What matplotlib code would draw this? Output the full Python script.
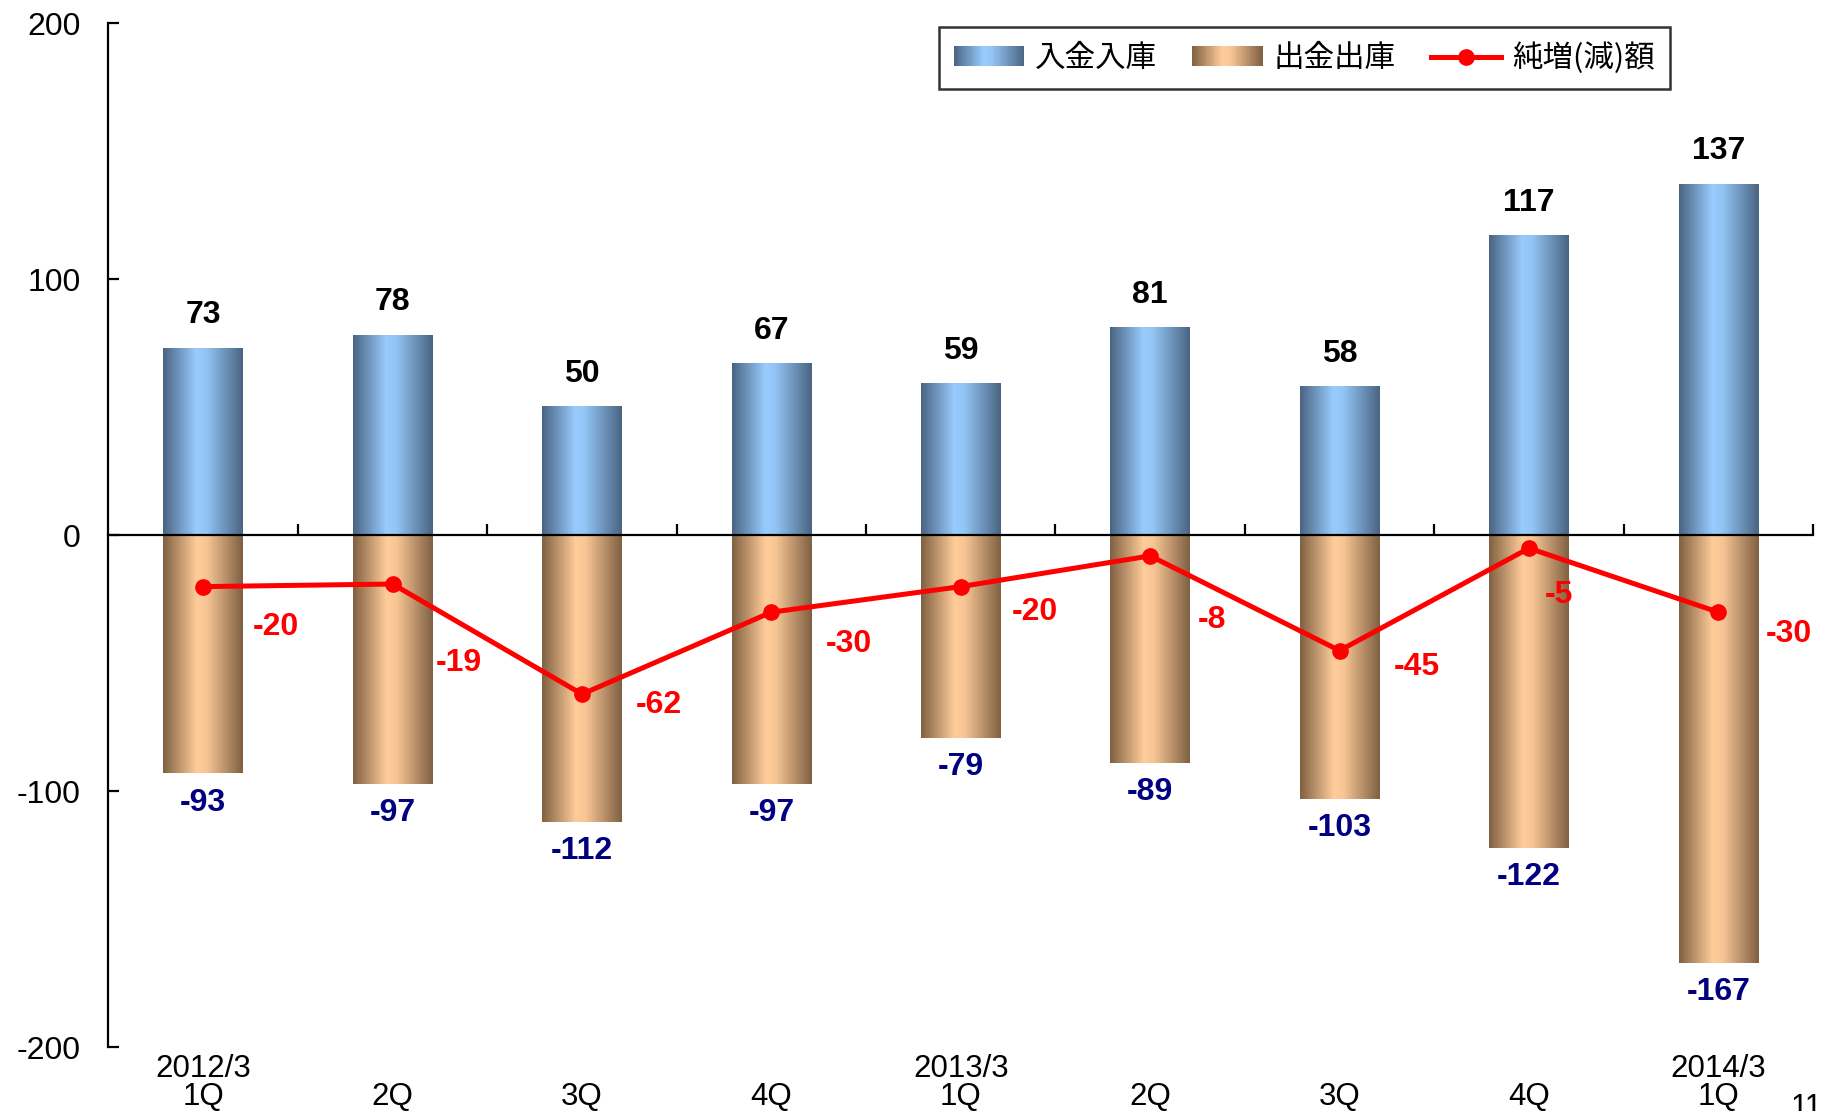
import numpy as np
import matplotlib
matplotlib.use('Agg')
import matplotlib.pyplot as plt
from matplotlib.colors import LinearSegmentedColormap
from matplotlib.legend_handler import HandlerBase
from matplotlib.patches import Rectangle
from matplotlib.lines import Line2D

plt.rcParams['font.family'] = ['Liberation Sans', 'Noto Sans CJK JP', 'DejaVu Sans']
plt.rcParams['axes.unicode_minus'] = False

quarters = ['2012/3\n1Q', '\n2Q', '\n3Q', '\n4Q', '2013/3\n1Q', '\n2Q', '\n3Q', '\n4Q', '2014/3\n1Q']
inflow = [73, 78, 50, 67, 59, 81, 58, 117, 137]
outflow = [-93, -97, -112, -97, -79, -89, -103, -122, -167]
net = [-20, -19, -62, -30, -20, -8, -45, -5, -30]

# label offsets for the net values (points), as placed by hand in the original
net_dx = [36, 31, 39, 39, 37, 34, 39, 11, 34]
net_dy = [-29, -57, -8, -23, -18, -46, -12, -34, -16]

cmap_in = LinearSegmentedColormap.from_list(
    'in', [(0, '#4a6482'), (0.42, '#99ccff'), (0.55, '#92c3f3'), (1, '#4a6482')])
cmap_out = LinearSegmentedColormap.from_list(
    'out', [(0, '#7f6042'), (0.42, '#ffcc99'), (0.55, '#f7c594'), (1, '#7f6042')])


class GradientHandler(HandlerBase):
    def __init__(self, cmap):
        super().__init__()
        self.cmap = cmap

    def create_artists(self, legend, orig_handle, xdescent, ydescent,
                       width, height, fontsize, trans):
        n = 40
        out = []
        for i in range(n):
            r = Rectangle((-xdescent + width * i / n, -ydescent), width / n * 1.05, height,
                          facecolor=self.cmap((i + 0.5) / n), edgecolor='none', transform=trans)
            out.append(r)
        return out


fig = plt.figure(figsize=(18.29, 11.11), dpi=100)
ax = fig.add_axes([0.0593, 0.0572, 0.9913 - 0.0593, 0.979 - 0.0572])

x = np.arange(len(quarters))
w = 0.42
grad = np.linspace(0, 1, 256).reshape(1, -1)

bars_in = ax.bar(x, inflow, width=w, color='none', edgecolor='none')
bars_out = ax.bar(x, outflow, width=w, color='none', edgecolor='none')
for bars, cm in ((bars_in, cmap_in), (bars_out, cmap_out)):
    for b in bars:
        x0, y0 = b.get_x(), b.get_y()
        ax.imshow(grad, cmap=cm, aspect='auto', interpolation='bilinear',
                  extent=(x0, x0 + b.get_width(), y0, y0 + b.get_height()), zorder=2)

ax.plot(x, net, color='#ff0000', lw=3.6, marker='o', markersize=11, zorder=4)

for xi, v in zip(x, inflow):
    ax.annotate(str(v), (xi, v), xytext=(0, 24), textcoords='offset points',
                ha='center', va='center', fontsize=23, fontweight='bold', color='black')
for xi, v in zip(x, outflow):
    ax.annotate(str(v), (xi, v), xytext=(0, -21), textcoords='offset points',
                ha='center', va='center', fontsize=23, fontweight='bold', color='#000080')
for xi, v, dx, dy in zip(x, net, net_dx, net_dy):
    ax.annotate(str(v), (xi, v), xytext=(dx, dy), textcoords='offset points',
                ha='left', va='center', fontsize=23, fontweight='bold', color='#ff0000')

ax.set_xlim(-0.5, 8.5)
ax.set_ylim(-200, 200)
ax.set_yticks([-200, -100, 0, 100, 200])
ax.tick_params(axis='y', direction='in', length=8, width=1.6, labelsize=23, pad=20)

ax.spines['top'].set_visible(False)
ax.spines['right'].set_visible(False)
ax.spines['left'].set_linewidth(1.6)
ax.spines['bottom'].set_position(('data', 0))
ax.spines['bottom'].set_linewidth(1.6)
ax.spines['bottom'].set_zorder(3)
ax.set_xticks(np.arange(1, len(quarters) + 1) - 0.5)
ax.tick_params(axis='x', direction='in', length=8, width=1.6, labelbottom=False)

sec = ax.secondary_xaxis('bottom')
sec.set_xticks(x, quarters)
sec.tick_params(length=0, pad=5, labelsize=22.5)
sec.spines['bottom'].set_visible(False)
for t in sec.get_xticklabels():
    t.set_linespacing(0.88)

h_in = Rectangle((0, 0), 1, 1)
h_out = Rectangle((0, 0), 1, 1)
h_net = Line2D([], [], color='#ff0000', lw=3.6, marker='o', markersize=11)
leg = fig.legend([h_in, h_out, h_net], ['入金入庫', '出金出庫', '純増(減)額'],
                 handler_map={h_in: GradientHandler(cmap_in), h_out: GradientHandler(cmap_out)},
                 loc='upper center', bbox_to_anchor=(0.7132, 0.9757), borderaxespad=0,
                 ncol=3, fontsize=22, frameon=True, fancybox=False, edgecolor='black',
                 handlelength=2.3, handleheight=0.63, handletextpad=0.36, columnspacing=1.15,
                 borderpad=0.5)
leg.get_frame().set_linewidth(1.8)
for t in leg.get_texts():
    t.set_family(['Noto Sans CJK JP', 'DejaVu Sans'])

fig.text(0.979, 0.003, '11', fontsize=22, ha='left', va='center')

fig.savefig('out.png', dpi=100)
